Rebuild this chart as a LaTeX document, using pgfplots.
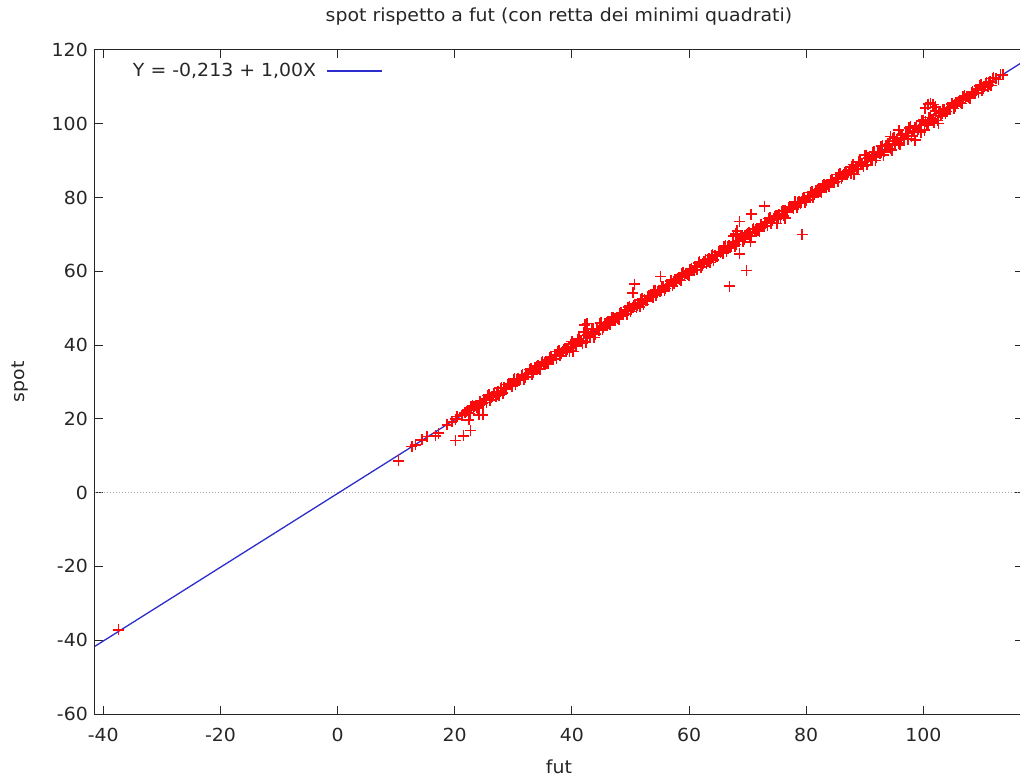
\documentclass[border=0pt]{standalone}
\usepackage{fontspec}
\setmainfont{DejaVu Sans}[FakeStretch=1.05]
\usepackage{pgfplots}
\pgfplotsset{compat=1.18}
\definecolor{ptred}{RGB}{250,10,10}
\definecolor{lnblue}{RGB}{45,45,205}
\begin{document}
\fontsize{18bp}{21bp}\selectfont
\begin{tikzpicture}
\begin{axis}[
  scale only axis,
  width=927.9bp, height=664bp,
  xmin=-41.42, xmax=117.0,
  ymin=-60, ymax=120,
  xtick={-40,-20,...,100},
  ytick={-60,-40,...,120},
  tick align=inside,
  major tick length=8bp,
  axis line style={line width=1bp, black!85},
  tick style={line width=1bp, black!85},
  /pgf/number format/assume math mode=true,
  tick label style={font=\fontsize{18bp}{21bp}\selectfont, text=black!85},
  xticklabel style={yshift=-8bp},
  yticklabel style={xshift=-1bp},
  title={spot rispetto a fut (con retta dei minimi quadrati)},
  title style={font=\fontsize{18bp}{21bp}\selectfont, text=black!85, yshift=13bp},
  xlabel={fut},
  ylabel={spot},
  xlabel style={font=\fontsize{18bp}{21bp}\selectfont, text=black!85, yshift=-6bp},
  ylabel style={font=\fontsize{18bp}{21bp}\selectfont, text=black!85, yshift=11bp},
  legend plot pos=right,
  legend cell align=right,
  legend style={at={(axis description cs:0,1)}, anchor=north west,
    draw=none, fill=none, inner sep=0pt, outer sep=0pt,
    xshift=36bp, yshift=-11bp,
    font=\fontsize{18bp}{21bp}\selectfont, text=black!85},
  legend image code/.code={\path (0bp,0bp); \draw[#1] (8bp,0bp) -- (63bp,0bp);},
]
\draw[gray!70, dotted, line width=1bp] (axis cs:-41.42,0) -- (axis cs:117,0);
\addplot[only marks, mark=+, mark size=5.5bp, ptred, mark options={line width=1.6bp}, forget plot] table {
x y
-37.4 -37.2
10.4 8.6
12.7 12.5
13.3 13.0
14.4 14.3
15.3 15.2
16.7 15.4
17.2 16.1
18.7 18.4
19.5 19.2
20.1 19.9
20.4 20.6
21.2 21.0
21.7 21.6
22.4 22.4
23.2 23.3
20.1 14.1
21.5 15.4
22.7 16.8
22.4 19.7
24.1 21.1
24.8 21.1
42.6 45.9
42.2 45.5
50.7 56.5
50.4 54.2
55.1 58.6
66.9 56.0
69.8 60.2
68.6 64.7
68.6 73.5
70.6 75.5
72.9 77.7
79.3 70.0
68.2 71.0
70.5 68.0
68.0 70.2
67.6 69.5
76.4 74.4
75.0 73.0
94.4 96.5
95.8 98.3
98.6 95.6
102.6 100.1
100.3 104.2
100.8 105.3
101.2 105.6
101.7 105.2
102.1 104.6
22.0 22.1
22.4 21.7
22.8 23.4
23.2 22.8
23.6 23.5
24.0 22.9
24.4 24.8
24.8 24.2
25.2 25.2
25.6 26.3
26.0 25.1
26.4 26.2
26.8 27.1
27.2 26.7
27.6 26.4
28.0 28.5
28.4 28.4
28.8 28.0
29.2 29.4
29.6 29.3
30.0 30.8
30.4 29.4
30.8 30.9
31.2 30.8
31.6 32.0
32.0 31.3
32.4 32.3
32.8 33.4
33.2 32.1
33.6 33.8
34.0 34.1
34.4 33.7
34.8 35.4
35.2 34.8
35.6 35.5
36.0 34.9
36.4 36.8
36.8 36.2
37.2 37.2
37.6 38.3
38.0 37.1
38.4 38.2
38.8 39.1
39.2 38.7
39.6 38.4
40.0 40.99
40.4 40.54
40.8 39.58
41.2 41.68
41.6 41.23
42.0 43.5
42.4 40.84
42.8 43.11
43.2 42.66
43.6 44.42
44.0 42.95
44.4 44.37
44.8 45.96
45.2 44.1
45.6 45.8
46.0 46.1
46.4 45.7
46.8 47.4
47.2 46.8
47.6 47.5
48.0 46.9
48.4 48.8
48.8 48.2
49.2 49.2
49.6 50.3
50.0 49.1
50.4 50.2
50.8 51.1
51.2 50.7
51.6 50.4
52.0 52.5
52.4 52.4
52.8 52.0
53.2 53.4
53.6 53.3
54.0 54.8
54.4 53.4
54.8 54.9
55.2 54.8
55.6 56.0
56.0 55.3
56.4 56.3
56.8 57.4
57.2 56.1
57.6 57.8
58.0 58.1
58.4 57.7
58.8 59.4
59.2 58.8
59.6 59.5
60.0 58.9
60.4 60.8
60.8 60.2
61.2 61.2
61.6 62.3
62.0 61.1
62.4 62.2
62.8 63.1
63.2 62.7
63.6 62.4
64.0 64.5
64.4 64.4
64.8 64.0
65.2 65.4
65.6 65.3
66.0 66.8
66.4 65.4
66.8 66.9
67.2 66.8
67.6 68.0
68.0 67.3
68.4 68.3
68.8 69.4
69.2 68.1
69.6 69.8
70.0 70.1
70.4 69.7
70.8 71.4
71.2 70.8
71.6 71.5
72.0 70.9
72.4 72.8
72.8 72.2
73.2 73.2
73.6 74.3
74.0 73.1
74.4 74.2
74.8 75.1
75.2 74.7
75.6 74.4
76.0 76.5
76.4 76.4
76.8 76.0
77.2 77.4
77.6 77.3
78.0 78.8
78.4 77.4
78.8 78.9
79.2 78.8
79.6 80.0
80.0 79.3
80.4 80.3
80.8 81.4
81.2 80.1
81.6 81.8
82.0 82.1
82.4 81.7
82.8 83.4
83.2 82.8
83.6 83.5
84.0 82.9
84.4 84.8
84.8 84.2
85.2 85.2
85.6 86.3
86.0 85.1
86.4 86.2
86.8 87.1
87.2 86.7
87.6 86.4
88.0 88.99
88.4 88.54
88.8 87.58
89.2 89.68
89.6 89.23
90.0 91.5
90.4 88.84
90.8 91.11
91.2 90.66
91.6 92.42
92.0 90.95
92.4 92.37
92.8 93.96
93.2 91.47
93.6 94.08
94.0 94.31
94.4 93.35
94.8 95.96
95.2 94.66
95.6 95.57
96.0 94.27
96.4 97.22
96.8 95.92
97.2 97.34
97.6 98.93
98.0 96.61
98.4 98.2
98.8 99.45
99.2 98.49
99.6 97.7
100.0 100.99
100.4 100.54
100.8 99.58
101.2 101.68
101.6 101.23
102.0 103.5
102.4 100.84
102.8 103.11
103.2 102.8
103.6 104.0
104.0 103.3
104.4 104.3
104.8 105.4
105.2 104.1
105.6 105.8
106.0 106.1
106.4 105.7
106.8 107.4
107.2 106.8
107.6 107.5
108.0 106.9
108.4 108.8
108.8 108.2
109.2 109.2
109.6 110.3
110.0 109.1
110.4 110.2
110.8 111.1
111.2 110.7
111.6 110.4
112.0 112.5
112.4 112.4
112.8 112.0
113.2 113.4
113.6 113.3
22.2 22.4
22.6 21.5
23.0 23.6
23.4 23.3
23.8 23.1
24.2 24.6
24.6 24.2
25.0 25.1
25.4 24.4
25.8 26.6
26.2 25.9
26.6 26.8
27.0 26.2
27.4 27.4
27.8 28.3
28.2 27.0
28.6 28.1
29.0 29.3
29.4 29.2
29.8 28.9
30.2 30.9
30.6 30.6
31.0 30.4
31.4 31.8
31.8 30.7
32.2 32.1
32.6 32.2
33.0 33.6
33.4 32.7
33.8 33.9
34.2 34.4
34.6 33.5
35.0 35.6
35.4 35.3
35.8 35.1
36.2 36.6
36.6 36.2
37.0 37.1
37.4 36.4
37.8 38.6
38.2 37.9
38.6 38.8
39.0 38.2
39.4 39.4
39.8 40.3
40.2 38.3
40.6 39.89
41.0 41.65
41.4 41.2
41.8 40.41
42.2 43.53
42.6 42.74
43.0 42.12
43.4 44.22
43.8 42.07
44.2 44.17
44.6 44.06
45.0 46.16
45.4 44.7
45.8 45.9
46.2 46.4
46.6 45.5
47.0 47.6
47.4 47.3
47.8 47.1
48.2 48.6
48.6 48.2
49.0 49.1
49.4 48.4
49.8 50.6
50.2 49.9
50.6 50.8
51.0 50.2
51.4 51.4
51.8 52.3
52.2 51.0
52.6 52.1
53.0 53.3
53.4 53.2
53.8 52.9
54.2 54.9
54.6 54.6
55.0 54.4
55.4 55.8
55.8 54.7
56.2 56.1
56.6 56.2
57.0 57.6
57.4 56.7
57.8 57.9
58.2 58.4
58.6 57.5
59.0 59.6
59.4 59.3
59.8 59.1
60.2 60.6
60.6 60.2
61.0 61.1
61.4 60.4
61.8 62.6
62.2 61.9
62.6 62.8
63.0 62.2
63.4 63.4
63.8 64.3
64.2 63.0
64.6 64.1
65.0 65.3
65.4 65.2
65.8 64.9
66.2 66.9
66.6 66.6
67.0 66.4
67.4 67.8
67.8 66.7
68.2 68.1
68.6 68.2
69.0 69.6
69.4 68.7
69.8 69.9
70.2 70.4
70.6 69.5
71.0 71.6
71.4 71.3
71.8 71.1
72.2 72.6
72.6 72.2
73.0 73.1
73.4 72.4
73.8 74.6
74.2 73.9
74.6 74.8
75.0 74.2
75.4 75.4
75.8 76.3
76.2 75.0
76.6 76.1
77.0 77.3
77.4 77.2
77.8 76.9
78.2 78.9
78.6 78.6
79.0 78.4
79.4 79.8
79.8 78.7
80.2 80.1
80.6 80.2
81.0 81.6
81.4 80.7
81.8 81.9
82.2 82.4
82.6 81.5
83.0 83.6
83.4 83.3
83.8 83.1
84.2 84.6
84.6 84.2
85.0 85.1
85.4 84.4
85.8 86.6
86.2 85.9
86.6 86.8
87.0 86.2
87.4 87.4
87.8 88.3
88.2 86.3
88.6 87.89
89.0 89.65
89.4 89.2
89.8 88.41
90.2 91.53
90.6 90.74
91.0 90.12
91.4 92.22
91.8 90.07
92.2 92.17
92.6 92.06
93.0 94.16
93.4 92.35
93.8 94.11
94.2 94.68
94.6 92.87
95.0 96.16
95.4 95.37
95.8 94.75
96.2 97.02
96.6 96.06
97.0 97.31
97.4 95.84
97.8 99.3
98.2 97.83
98.6 99.08
99.0 97.78
99.4 99.54
99.8 100.79
100.2 98.3
100.6 99.89
101.0 101.65
101.4 101.2
101.8 100.41
102.2 103.53
102.6 102.74
103.0 102.12
103.4 103.8
103.8 102.7
104.2 104.1
104.6 104.2
105.0 105.6
105.4 104.7
105.8 105.9
106.2 106.4
106.6 105.5
107.0 107.6
107.4 107.3
107.8 107.1
108.2 108.6
108.6 108.2
109.0 109.1
109.4 108.4
109.8 110.6
110.2 109.9
110.6 110.8
111.0 110.2
111.4 111.4
111.8 112.3
};
\addplot[lnblue, line width=1.3bp] coordinates {(-41.42,-41.633) (117.0,116.787)};
\addlegendentry{Y = -0,213 + 1,00X}
\end{axis}
\pgfresetboundingbox
\path[use as bounding box] (-95bp,-64bp) rectangle (925bp,714bp);
\end{tikzpicture}
\end{document}
